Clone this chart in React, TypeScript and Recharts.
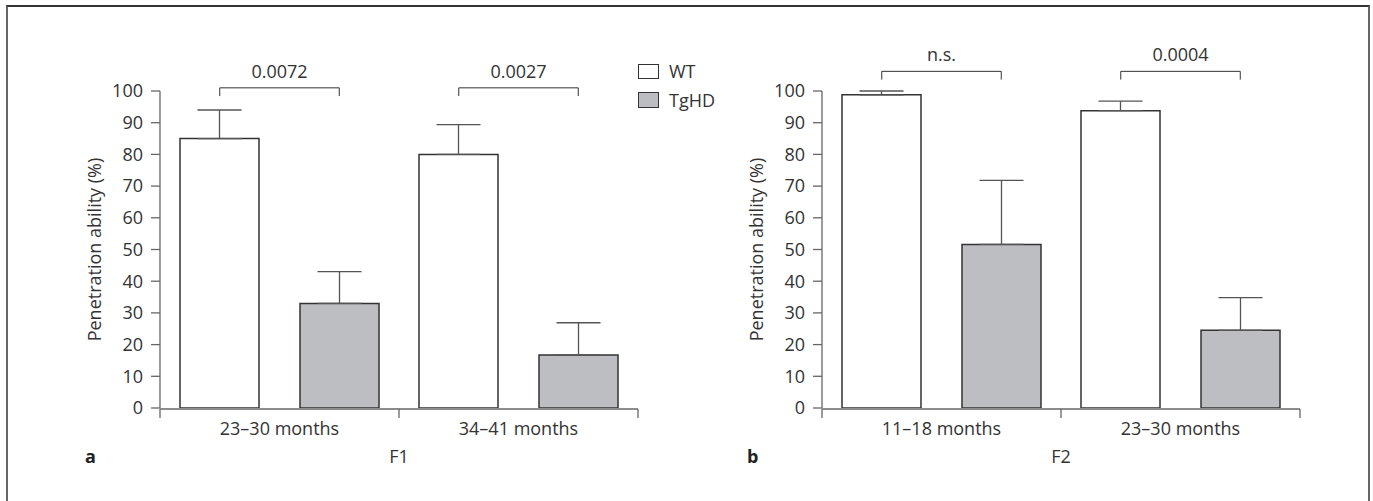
import { BarChart, Bar, XAxis, YAxis, ErrorBar, ReferenceLine, Legend } from 'recharts';

// F1 cohort
const f1Groups = ['23–30 months', '34–41 months'];
const f1Wt = [85, 80];
const f1WtErr = [9, 9.4];
const f1Tg = [33, 16.7];
const f1TgErr = [10, 10.2];
const f1P = ['0.0072', '0.0027'];

// F2 cohort
const f2Groups = ['11–18 months', '23–30 months'];
const f2Wt = [98.8, 93.8];
const f2WtErr = [1.2, 3];
const f2Tg = [51.6, 24.5];
const f2TgErr = [20.2, 10.3];
const f2P = ['n.s.', '0.0004'];

const yTicks = [0, 10, 20, 30, 40, 50, 60, 70, 80, 90, 100];
const seriesNames = ['WT', 'TgHD'];
const seriesFills = ['#ffffff', '#bdbec2'];

const txt = '#333';
const axisCol = '#666';

// legend drawn in series order (recharts sorts by name otherwise)
const LegendContent = () => (
  <div>
    {seriesNames.map((name, i) => (
      <div key={name} style={{ display: 'flex', alignItems: 'center', height: 28.5, fontSize: 18, color: txt }}>
        <span
          style={{
            display: 'inline-block',
            width: 19,
            height: 13.5,
            border: '1.5px solid #333',
            background: seriesFills[i],
            marginRight: 10,
          }}
        />
        {name}
      </div>
    ))}
  </div>
);

type PanelProps = {
  groups: string[];
  wt: number[];
  wtErr: number[];
  tg: number[];
  tgErr: number[];
  pvals: string[];
  bracketY: number;
  xLabel: string;
  width: number;
  marginLeft: number;
  marginRight: number;
  legend?: boolean;
};

const Panel = ({ groups, wt, wtErr, tg, tgErr, pvals, bracketY, xLabel, width, marginLeft, marginRight, legend }: PanelProps) => {
  const data = groups.map((g, i) => ({
    group: g,
    pos: i + 0.5, // centre of the group on the numeric helper axis
    WT: wt[i],
    wtErr: [0, wtErr[i]],
    TgHD: tg[i],
    tgErr: [0, tgErr[i]],
  }));
  const drop = 2.6;
  return (
    <BarChart
      width={width}
      height={501}
      data={data}
      margin={{ top: 91, left: marginLeft, right: marginRight, bottom: 91 }}
      barSize={79}
      barGap={41}
    >
      <XAxis
        xAxisId="num"
        dataKey="pos"
        type="number"
        domain={[0, groups.length]}
        allowDataOverflow
        ticks={[0, 1, 2]}
        tickFormatter={() => ''}
        height={1}
        tickSize={9}
        stroke={axisCol}
        strokeWidth={1.3}
      />
      <XAxis
        dataKey="group"
        height={1}
        tickLine={false}
        axisLine={false}
        tickSize={0}
        tickMargin={14}
        tick={{ fontSize: 18, fill: txt }}
        label={{ value: xLabel, position: 'bottom', offset: 41, fontSize: 18, fill: txt }}
      />
      <YAxis
        domain={[0, 100]}
        ticks={yTicks}
        interval={0}
        allowDataOverflow
        width={130}
        tickSize={9}
        tickMargin={8}
        stroke={axisCol}
        strokeWidth={1.3}
        tick={{ fontSize: 18, fill: txt }}
        label={{ value: 'Penetration ability (%)', angle: -90, position: 'center', fontSize: 18, fill: txt }}
      />
      <Bar dataKey="WT" fill={seriesFills[0]} stroke="#333" strokeWidth={1.5} isAnimationActive={false}>
        <ErrorBar dataKey="wtErr" width={22} stroke="#555" strokeWidth={1.3} direction="y" />
      </Bar>
      <Bar dataKey="TgHD" fill={seriesFills[1]} stroke="#333" strokeWidth={1.5} isAnimationActive={false}>
        <ErrorBar dataKey="tgErr" width={22} stroke="#555" strokeWidth={1.3} direction="y" />
      </Bar>
      {pvals.map((p, i) => (
        <g key={i}>
          <ReferenceLine
            xAxisId="num"
            ifOverflow="visible"
            stroke="#333"
            segment={[{ x: i + 0.25, y: bracketY }, { x: i + 0.75, y: bracketY }]}
            label={{ value: p, position: 'top', offset: 10, fontSize: 18, fill: txt }}
          />
          <ReferenceLine
            xAxisId="num"
            ifOverflow="visible"
            stroke="#333"
            segment={[{ x: i + 0.25, y: bracketY }, { x: i + 0.25, y: bracketY - drop }]}
          />
          <ReferenceLine
            xAxisId="num"
            ifOverflow="visible"
            stroke="#333"
            segment={[{ x: i + 0.75, y: bracketY }, { x: i + 0.75, y: bracketY - drop }]}
          />
        </g>
      ))}
      {legend && (
        <Legend
          layout="vertical"
          align="center"
          verticalAlign="middle"
          wrapperStyle={{ left: 638, top: 57, width: 'auto' }}
          content={LegendContent}
        />
      )}
    </BarChart>
  );
};

const letterStyle: any = { position: 'absolute', top: 447, fontSize: 18, lineHeight: '18px', fontWeight: 'bold', color: '#222' };

export default function App() {
  return (
    <div
      style={{
        position: 'absolute',
        left: 0,
        top: 0,
        width: 1373,
        height: 501,
        overflow: 'hidden',
        background: '#fff',
        fontFamily: "'Open Sans', sans-serif",
      }}
    >
      <div
        style={{
          position: 'absolute',
          left: 6,
          top: 5,
          width: 1364,
          height: 560,
          boxSizing: 'border-box',
          borderTop: '2px solid #333',
          borderLeft: '2px solid #666',
          borderRight: '2px solid #666',
        }}
      />
      <div style={{ position: 'absolute', left: 0, top: 0 }}>
        <Panel
          groups={f1Groups}
          wt={f1Wt}
          wtErr={f1WtErr}
          tg={f1Tg}
          tgErr={f1TgErr}
          pvals={f1P}
          bracketY={101}
          xLabel="F1"
          width={700}
          marginLeft={30}
          marginRight={62}
          legend
        />
      </div>
      <div style={{ position: 'absolute', left: 690, top: 0 }}>
        <Panel
          groups={f2Groups}
          wt={f2Wt}
          wtErr={f2WtErr}
          tg={f2Tg}
          tgErr={f2TgErr}
          pvals={f2P}
          bracketY={106.2}
          xLabel="F2"
          width={683}
          marginLeft={2}
          marginRight={73}
        />
      </div>
      <div style={{ ...letterStyle, left: 85 }}>a</div>
      <div style={{ ...letterStyle, left: 747 }}>b</div>
    </div>
  );
}
